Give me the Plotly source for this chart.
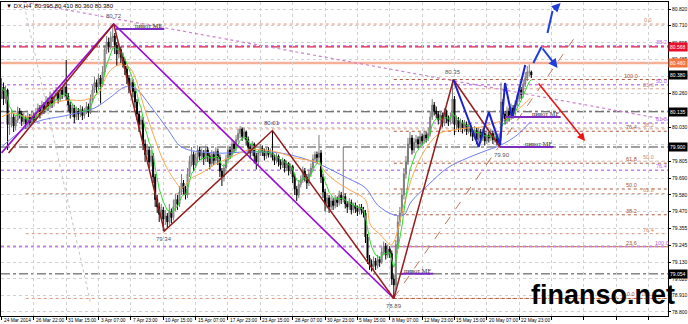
import plotly.graph_objects as go
import pandas as pd

# ---------------- data (H4 bars, index = bar number) ----------------
first_open = 80.26
closes = [
 80.30, 80.22, 80.28, 80.05, 80.06, 80.10, 80.04, 80.08, 80.14, 80.12,
 80.07, 80.09, 80.05, 80.10, 80.06, 80.11, 80.08, 80.13, 80.16, 80.12,
 80.18, 80.15, 80.20, 80.17, 80.23, 80.19, 80.24, 80.26, 80.22, 80.28,
 80.25, 80.30, 80.24, 80.18, 80.13, 80.16, 80.10, 80.14, 80.12, 80.15,
 80.11, 80.14, 80.17, 80.13, 80.22, 80.28, 80.33, 80.30, 80.36, 80.32,
 80.40, 80.55, 80.60, 80.57, 80.63, 80.64, 80.58, 80.52, 80.55, 80.50,
 80.47, 80.42, 80.36, 80.30, 80.33, 80.27, 80.20, 80.12, 80.05, 80.08,
 79.92, 79.85, 79.88, 79.80, 79.84, 79.70, 79.55, 79.50, 79.45, 79.48,
 79.42, 79.44, 79.40, 79.47, 79.43, 79.50, 79.55, 79.52, 79.60, 79.66,
 79.62, 79.58, 79.72, 79.80, 79.85, 79.78, 79.83, 79.88, 79.84, 79.86,
 79.82, 79.88, 79.84, 79.79, 79.85, 79.81, 79.87, 79.83, 79.74, 79.70,
 79.76, 79.82, 79.88, 79.85, 79.92, 79.89, 79.95, 79.99, 80.02, 79.97,
 80.00, 79.95, 79.90, 79.86, 79.92, 79.84, 79.80, 79.86, 79.89, 79.87,
 79.84, 79.88, 79.85, 79.86, 79.83, 79.81, 79.84, 79.80, 79.78, 79.81,
 79.76, 79.79, 79.74, 79.77, 79.70, 79.62, 79.58, 79.65, 79.68, 79.74,
 79.70, 79.66, 79.72, 79.76, 79.82, 79.85, 79.83, 79.86, 79.70, 79.60,
 79.52, 79.56, 79.50, 79.54, 79.51, 79.55, 79.53, 79.58, 79.55, 79.57,
 79.52, 79.50, 79.53, 79.48, 79.51, 79.49, 79.47, 79.50, 79.48, 79.46,
 79.30, 79.16, 79.12, 79.10, 79.14, 79.11, 79.15, 79.13, 79.20, 79.24,
 79.18, 79.22, 79.19, 79.02, 78.98, 79.25, 79.40, 79.46, 79.58, 79.72,
 79.80, 79.92, 79.96, 79.88, 79.93, 79.95, 79.92, 79.97, 79.94, 79.98,
 79.96, 79.99, 80.10, 80.18, 80.14, 80.12, 80.08, 80.11, 80.06, 80.13,
 80.09, 80.07, 80.10, 80.22, 80.05, 80.08, 80.03, 80.06, 80.02, 80.05,
 80.01, 80.04, 80.00, 79.97, 80.01, 79.95, 80.00, 79.96, 79.99, 79.94,
 79.98, 79.96, 79.99, 79.95, 79.97, 79.93, 79.96, 80.20, 80.12, 80.08,
 80.14, 80.10, 80.16, 80.12, 80.18, 80.22, 80.28, 80.25, 80.32, 80.36,
 80.40, 80.40, 80.38]
highs = [
 80.36, 80.33, 80.31, 80.29, 80.12, 80.15, 80.12, 80.11, 80.17, 80.16,
 80.14, 80.13, 80.11, 80.13, 80.12, 80.14, 80.13, 80.16, 80.19, 80.18,
 80.21, 80.20, 80.24, 80.23, 80.27, 80.25, 80.28, 80.30, 80.28, 80.31,
 80.30, 80.34, 80.48, 80.26, 80.20, 80.19, 80.18, 80.17, 80.16, 80.18,
 80.17, 80.16, 80.20, 80.19, 80.25, 80.31, 80.37, 80.35, 80.39, 80.38,
 80.44, 80.58, 80.64, 80.63, 80.67, 80.72, 80.66, 80.60, 80.59, 80.57,
 80.53, 80.49, 80.44, 80.38, 80.36, 80.35, 80.29, 80.22, 80.14, 80.11,
 80.10, 79.95, 79.92, 79.90, 79.88, 79.86, 79.72, 79.58, 79.53, 79.52,
 79.50, 79.48, 79.46, 79.52, 79.49, 79.55, 79.59, 79.58, 79.64, 79.72,
 79.68, 79.64, 79.76, 79.84, 79.90, 79.87, 79.86, 79.91, 79.90, 79.89,
 79.88, 79.91, 79.90, 79.86, 79.88, 79.87, 79.90, 79.89, 79.85, 79.76,
 79.79, 79.85, 79.91, 79.90, 79.95, 79.94, 79.98, 80.02, 80.04, 80.03,
 80.03, 80.01, 79.97, 79.92, 79.94, 79.93, 79.86, 79.88, 79.92, 79.91,
 79.89, 79.90, 79.90, 79.89, 80.01, 79.85, 79.86, 79.85, 79.82, 79.83,
 79.82, 79.81, 79.80, 79.79, 79.78, 79.72, 79.64, 79.68, 79.71, 79.77,
 79.76, 79.72, 79.75, 79.79, 79.85, 79.87, 79.87, 79.98, 79.88, 79.72,
 79.62, 79.59, 79.58, 79.57, 79.56, 79.58, 79.57, 79.61, 79.60, 79.90,
 79.59, 79.54, 79.56, 79.55, 79.53, 79.53, 79.51, 79.52, 79.52, 79.50,
 79.48, 79.32, 79.18, 79.15, 79.17, 79.16, 79.18, 79.17, 79.23, 79.27,
 79.26, 79.25, 79.24, 79.21, 79.05, 79.28, 79.44, 79.50, 79.62, 79.76,
 79.84, 79.96, 80.00, 79.98, 79.96, 79.98, 79.97, 80.00, 79.99, 80.01,
 80.00, 80.03, 80.14, 80.22, 80.20, 80.17, 80.14, 80.14, 80.13, 80.16,
 80.15, 80.11, 80.13, 80.35, 80.24, 80.11, 80.10, 80.09, 80.08, 80.08,
 80.07, 80.07, 80.06, 80.02, 80.04, 80.03, 80.03, 80.02, 80.02, 80.01,
 80.01, 80.00, 80.02, 80.01, 80.00, 79.99, 79.99, 80.33, 80.22, 80.14,
 80.17, 80.16, 80.19, 80.18, 80.21, 80.25, 80.31, 80.30, 80.35, 80.40,
 80.44, 80.45, 80.41]
lows = [
 80.22, 80.18, 80.19, 79.88, 79.98, 80.03, 80.00, 80.01, 80.06, 80.09,
 80.04, 80.05, 80.02, 80.03, 80.04, 80.05, 80.06, 80.07, 80.11, 80.09,
 80.11, 80.12, 80.13, 80.14, 80.15, 80.16, 80.17, 80.21, 80.19, 80.20,
 80.22, 80.23, 80.21, 80.14, 80.09, 80.10, 80.06, 80.08, 80.08, 80.10,
 80.08, 80.09, 80.12, 80.10, 80.12, 80.20, 80.26, 80.26, 80.28, 80.19,
 80.30, 80.38, 80.52, 80.53, 80.55, 80.60, 80.52, 80.44, 80.49, 80.46,
 80.43, 80.38, 80.32, 80.26, 80.27, 80.23, 80.16, 80.08, 80.00, 80.02,
 79.88, 79.80, 79.82, 79.76, 79.77, 79.66, 79.50, 79.46, 79.40, 79.42,
 79.34, 79.38, 79.36, 79.38, 79.39, 79.41, 79.47, 79.48, 79.50, 79.58,
 79.58, 79.55, 79.56, 79.70, 79.77, 79.74, 79.76, 79.80, 79.81, 79.81,
 79.78, 79.80, 79.80, 79.75, 79.77, 79.78, 79.79, 79.78, 79.70, 79.64,
 79.67, 79.73, 79.79, 79.82, 79.83, 79.86, 79.87, 79.93, 79.96, 79.94,
 79.95, 79.91, 79.86, 79.82, 79.84, 79.79, 79.75, 79.78, 79.84, 79.84,
 79.81, 79.82, 79.83, 79.83, 79.81, 79.78, 79.79, 79.77, 79.75, 79.76,
 79.73, 79.74, 79.71, 79.72, 79.66, 79.58, 79.54, 79.56, 79.63, 79.66,
 79.67, 79.62, 79.64, 79.70, 79.74, 79.80, 79.80, 79.81, 79.66, 79.56,
 79.47, 79.49, 79.46, 79.48, 79.48, 79.49, 79.50, 79.51, 79.52, 79.53,
 79.49, 79.46, 79.48, 79.45, 79.46, 79.46, 79.44, 79.45, 79.45, 79.43,
 79.26, 79.12, 79.08, 79.07, 79.08, 79.08, 79.09, 79.10, 79.12, 79.18,
 79.15, 79.16, 79.16, 78.98, 78.89, 78.95, 79.22, 79.37, 79.44, 79.55,
 79.69, 79.78, 79.89, 79.85, 79.86, 79.90, 79.89, 79.90, 79.91, 79.92,
 79.93, 79.94, 79.97, 80.08, 80.11, 80.09, 80.05, 80.06, 80.03, 80.04,
 80.06, 80.04, 80.05, 80.06, 79.98, 80.02, 80.00, 80.01, 79.99, 80.00,
 79.98, 79.99, 79.97, 79.94, 79.95, 79.92, 79.93, 79.93, 79.94, 79.91,
 79.92, 79.93, 79.94, 79.92, 79.93, 79.91, 79.90, 79.94, 80.09, 80.05,
 80.06, 80.07, 80.08, 80.09, 80.10, 80.16, 80.20, 80.22, 80.23, 80.30,
 80.34, 80.37, 80.36]

# moving averages (bar, price)
ma_orange_bar = [0, 5, 13, 21, 26, 33, 41, 48, 51, 54, 58, 63, 66, 70.5, 75.5, 80.5, 85.5, 89, 94, 99,
                 105, 113.5, 122, 130, 138, 145, 151.5, 156.5, 161.5, 168, 174, 180, 182.5, 187.5, 192.5,
                 194, 199, 204, 211, 217, 223.5, 230.5, 237, 243.5, 248.5, 253, 258, 261.5]
ma_orange_val = [80.10, 80.127, 80.10, 80.147, 80.193, 80.213, 80.213, 80.26, 80.347, 80.413, 80.447, 80.433,
                 80.367, 80.167, 79.967, 79.793, 79.68, 79.627, 79.693, 79.727, 79.78, 79.833, 79.88, 79.88,
                 79.86, 79.827, 79.813, 79.793, 79.713, 79.647, 79.60, 79.547, 79.38, 79.313, 79.247, 79.267,
                 79.513, 79.733, 79.913, 79.993, 80.013, 80.027, 80.033, 80.06, 80.08, 80.127, 80.18, 80.227]
ma_blue_bar = [0, 16, 33, 46, 54, 61, 66, 74, 82.5, 89, 105, 122, 138, 154.5, 171, 180, 186, 194, 199,
               202.5, 211, 220.5, 230.5, 240.5, 247, 255, 261.5]
ma_blue_val = [79.90, 80.06, 80.113, 80.16, 80.233, 80.30, 80.293, 80.167, 80.013, 79.90, 79.86, 79.867,
               79.86, 79.80, 79.693, 79.627, 79.513, 79.447, 79.447, 79.533, 79.647, 79.76, 79.827, 79.88,
               79.913, 79.98, 80.067]

# zigzags
zz_red_bar = [3.5, 55.5, 80.5, 134, 194, 223.5, 246.5]
zz_red_val = [79.86, 80.72, 79.34, 80.01, 78.89, 80.35, 79.90]
zz_purple_bar = [0, 55.5, 194]
zz_purple_val = [79.86, 80.72, 78.89]
zz_blue_bar = [223.5, 236, 241, 246.5, 249, 252.5, 259]
zz_blue_val = [80.347, 79.90, 80.133, 79.913, 80.327, 80.093, 80.447]

# horizontal levels
crimson_level = 80.568
orange_level = 80.460
gray_levels = [80.135, 79.900, 79.054]
purple_fib = [80.575, 80.315, 80.06, 79.745, 79.235]
purple_fib_lbl = ["38.2", "50.0", "61.8", "76.4", "100.0"]
fibA = [80.72, 80.288, 80.021, 79.805, 79.589, 79.322, 78.89]
fibA_lbl = ["0.0", "23.6", "38.2", "50.0", "61.8", "76.4", "100.0"]
fibA_start = 12
fibB = [80.35, 80.005, 79.792, 79.62, 79.448, 79.235, 78.89]
fibB_lbl = ["100.0", "76.4", "61.8", "50.0", "38.2", "23.6", "0.0"]
fibB_start = 194

# pivot MF segments
piv_x0 = [56.5, 197.5, 246.5, 249]
piv_x1 = [80.5, 213.5, 273, 276.5]
piv_val = [80.687, 79.054, 79.90, 80.10]

# swing labels
swing_bar = [55.5, 80.5, 134, 194, 223.5, 247.5]
swing_val = [80.72, 79.34, 80.01, 78.89, 80.35, 79.90]
swing_up = [True, False, True, False, True, False]

# diagonals
diag_violet = ([11, 329.6], [80.867, 80.08])
diag_gray = ([10.6, 44.2], [80.88, 78.85])
diag_brown = ([194, 285], [78.893, 80.66])

# arrows (forecast)
blueA_bar = [263, 267, 275]
blueA_val = [80.46, 80.567, 80.427]
blueB_bar = [270, 272.5, 276.5]
blueB_val = [80.66, 80.807, 80.86]
red_arrow_bar = [265, 288.6]
red_arrow_val = [80.333, 79.94]

# axis labels
ytick_vals = [80.820, 80.710, 80.595, 80.485, 80.370, 80.260, 80.145, 80.030, 79.915, 79.805,
              79.690, 79.580, 79.470, 79.355, 79.245, 79.130, 79.020, 78.910, 78.800]
date_labels = ["24 Mar 2014", "26 Mar 22:00", "31 Mar 15:00", "3 Apr 07:00", "7 Apr 23:00",
               "10 Apr 15:00", "15 Apr 07:00", "17 Apr 23:00", "23 Apr 15:00", "28 Apr 07:00",
               "30 Apr 23:00", "5 May 15:00", "8 May 07:00", "12 May 23:00", "15 May 15:00",
               "20 May 07:00", "22 May 23:00"]
box_vals = [80.568, 80.460, 80.380, 80.135, 79.900, 79.054]
box_colors = ["#E8102A", "#F4743C", "#000000", "#000000", "#000000", "#000000"]
header = "▼ DX,H4  80.395 80.410 80.360 80.380"

# ---------------- figure ----------------
XR = [-0.25, 329.6]
YR = [78.773, 80.867]
n = len(closes)
bars = list(range(n))
opens = [first_open] + closes[:-1]
hi = [max(h, o, c) for h, o, c in zip(highs, opens, closes)]
lo = [min(l, o, c) for l, o, c in zip(lows, opens, closes)]
green = pd.Series(closes).ewm(span=6, adjust=False).mean().tolist()

fig = go.Figure()
shapes = []

def hline(y, x0, x1, color, width, dash):
    shapes.append(dict(type="line", xref="x", yref="y", x0=x0, x1=x1, y0=y, y1=y,
                       line=dict(color=color, width=width, dash=dash), layer="below"))

for v in fibA:
    hline(v, fibA_start, XR[1], "#D69A80", 1, "dot")
for v in fibB:
    hline(v, fibB_start, XR[1], "#B0583A", 1, "dot")
for v in purple_fib:
    hline(v, XR[0], XR[1], "#C77DF3", 1.6, "dot")
for v in gray_levels:
    hline(v, XR[0], XR[1], "#454545", 1, "dashdot")
hline(crimson_level, XR[0], XR[1], "#E0204A", 1.2, "dashdot")
hline(orange_level, XR[0], XR[1], "#F7B096", 2.5, "solid")

fig.add_trace(go.Scatter(x=diag_violet[0], y=diag_violet[1], mode="lines",
                         line=dict(color="#CC80CC", width=1.2, dash="dot")))
fig.add_trace(go.Scatter(x=diag_gray[0], y=diag_gray[1], mode="lines",
                         line=dict(color="#C4C4C4", width=1, dash="dot")))

fig.add_trace(go.Candlestick(x=bars, open=opens, high=hi, low=lo, close=closes,
                             increasing=dict(line=dict(color="#7A7A7A", width=1), fillcolor="#B8B8B8"),
                             decreasing=dict(line=dict(color="#000000", width=1), fillcolor="#000000"),
                             whiskerwidth=0))

fig.add_trace(go.Scatter(x=ma_blue_bar, y=ma_blue_val, mode="lines", line=dict(color="#6F7FF0", width=1, shape="spline")))
fig.add_trace(go.Scatter(x=ma_orange_bar, y=ma_orange_val, mode="lines", line=dict(color="#FFA64D", width=1, shape="spline")))
fig.add_trace(go.Scatter(x=bars, y=green, mode="lines", line=dict(color="#2EDB2E", width=1)))

fig.add_trace(go.Scatter(x=diag_brown[0], y=diag_brown[1], mode="lines",
                         line=dict(color="#BC7560", width=1, dash="dash")))
fig.add_trace(go.Scatter(x=zz_purple_bar, y=zz_purple_val, mode="lines", line=dict(color="#9A0CD6", width=1.6)))
fig.add_trace(go.Scatter(x=zz_red_bar, y=zz_red_val, mode="lines", line=dict(color="#951C1C", width=1.5)))
fig.add_trace(go.Scatter(x=zz_blue_bar, y=zz_blue_val, mode="lines", line=dict(color="#1C22CF", width=2)))

for a, b, v in zip(piv_x0, piv_x1, piv_val):
    fig.add_trace(go.Scatter(x=[a, b], y=[v, v], mode="lines", line=dict(color="#7A2CC0", width=2)))

fig.add_trace(go.Scatter(x=blueA_bar[:2], y=blueA_val[:2], mode="lines", line=dict(color="#1F3FDD", width=2)))
fig.add_trace(go.Scatter(x=blueB_bar[:2], y=blueB_val[:2], mode="lines", line=dict(color="#1F3FDD", width=2)))

ann = []
ann.append(dict(x=blueA_bar[2], y=blueA_val[2], ax=blueA_bar[1], ay=blueA_val[1], xref="x", yref="y",
                axref="x", ayref="y", showarrow=True, arrowhead=2, arrowsize=0.9, arrowwidth=2,
                arrowcolor="#1F3FDD", text=""))
ann.append(dict(x=blueB_bar[2], y=blueB_val[2], ax=blueB_bar[1], ay=blueB_val[1], xref="x", yref="y",
                axref="x", ayref="y", showarrow=True, arrowhead=2, arrowsize=0.9, arrowwidth=2,
                arrowcolor="#1F3FDD", text=""))
ann.append(dict(x=red_arrow_bar[1], y=red_arrow_val[1], ax=red_arrow_bar[0], ay=red_arrow_val[0], xref="x",
                yref="y", axref="x", ayref="y", showarrow=True, arrowhead=2, arrowsize=1, arrowwidth=1.6,
                arrowcolor="#EE1515", text=""))

small = dict(family="Liberation Sans, Arial", size=5.5)
for v, t in zip(fibA, fibA_lbl):
    ann.append(dict(x=319.8, y=v, xref="x", yref="y", text=t, showarrow=False, yanchor="bottom",
                    font=dict(small, color="#CF8A6C"), yshift=-1))
for v, t in zip(fibB, fibB_lbl):
    ann.append(dict(x=311.4, y=v, xref="x", yref="y", text=t, showarrow=False, yanchor="bottom",
                    font=dict(small, color="#A4502E"), yshift=-1))
for v, t in zip(purple_fib, purple_fib_lbl):
    ann.append(dict(x=326.6, y=v, xref="x", yref="y", text=t, showarrow=False, yanchor="bottom",
                    font=dict(small, color="#B565E8"), yshift=-1))

for b, v in zip(piv_x1, piv_val):
    ann.append(dict(x=b, y=v, xref="x", yref="y", text="пивот MF", showarrow=False, xanchor="right",
                    yanchor="bottom", yshift=-2,
                    font=dict(family="Liberation Serif, Times New Roman", size=6.5, color="#333333")))

for b, v, up in zip(swing_bar, swing_val, swing_up):
    ann.append(dict(x=b, y=v, xref="x", yref="y", text=f"{v:.2f}", showarrow=False,
                    yanchor="bottom" if up else "top", yshift=3 if up else -3,
                    font=dict(family="Liberation Sans, Arial", size=6, color="#555555")))

for v, c in zip(box_vals, box_colors):
    ann.append(dict(x=1, y=v, xref="paper", yref="y", text=f"{v:.3f}", showarrow=False, xanchor="left",
                    xshift=0, bgcolor=c, borderpad=1,
                    font=dict(family="Liberation Sans, Arial", size=5, color="#FFFFFF")))

for i, t in enumerate(date_labels):
    ann.append(dict(x=i * 16, y=0, xref="x", yref="paper", text=t, showarrow=False, xanchor="left",
                    yanchor="top", xshift=0, yshift=0,
                    font=dict(family="Liberation Sans, Arial", size=4.8, color="#000000")))

ann.append(dict(x=0.004, y=0.988, xref="paper", yref="paper", text=header, showarrow=False,
                xanchor="left", yanchor="middle", font=dict(family="Liberation Sans, Arial", size=6, color="#000")))
ann.append(dict(x=0.902, y=0.068, xref="paper", yref="paper", text="<b>finanso.net</b>", showarrow=False,
                xanchor="center", yanchor="middle",
                font=dict(family="Liberation Sans, Arial", size=27, color="#000000")))

fig.update_layout(
    width=688, height=324, margin=dict(l=1, r=20, t=2, b=8),
    paper_bgcolor="#FFFFFF", plot_bgcolor="#FFFFFF", showlegend=False,
    shapes=shapes, annotations=ann,
    xaxis=dict(range=XR, rangeslider=dict(visible=False), tickvals=[k * 16 for k in range(21)],
               showticklabels=False, ticks="outside", ticklen=3, tickcolor="#000",
               showgrid=True, gridcolor="#D0D0D0", griddash="dot", gridwidth=1,
               showline=True, linecolor="#000", linewidth=1, mirror=True, zeroline=False, automargin=False),
    yaxis=dict(range=YR, side="right", tickvals=ytick_vals, ticktext=[f"{v:.3f}" for v in ytick_vals],
               ticks="outside", ticklen=2, tickcolor="#000", ticklabelstandoff=0,
               tickfont=dict(family="Liberation Sans, Arial", size=5, color="#000"),
               showgrid=True, gridcolor="#D0D0D0", griddash="dot", gridwidth=1,
               showline=True, linecolor="#000", linewidth=1, mirror=True, zeroline=False, automargin=False),
)

fig.write_html("out.html")
